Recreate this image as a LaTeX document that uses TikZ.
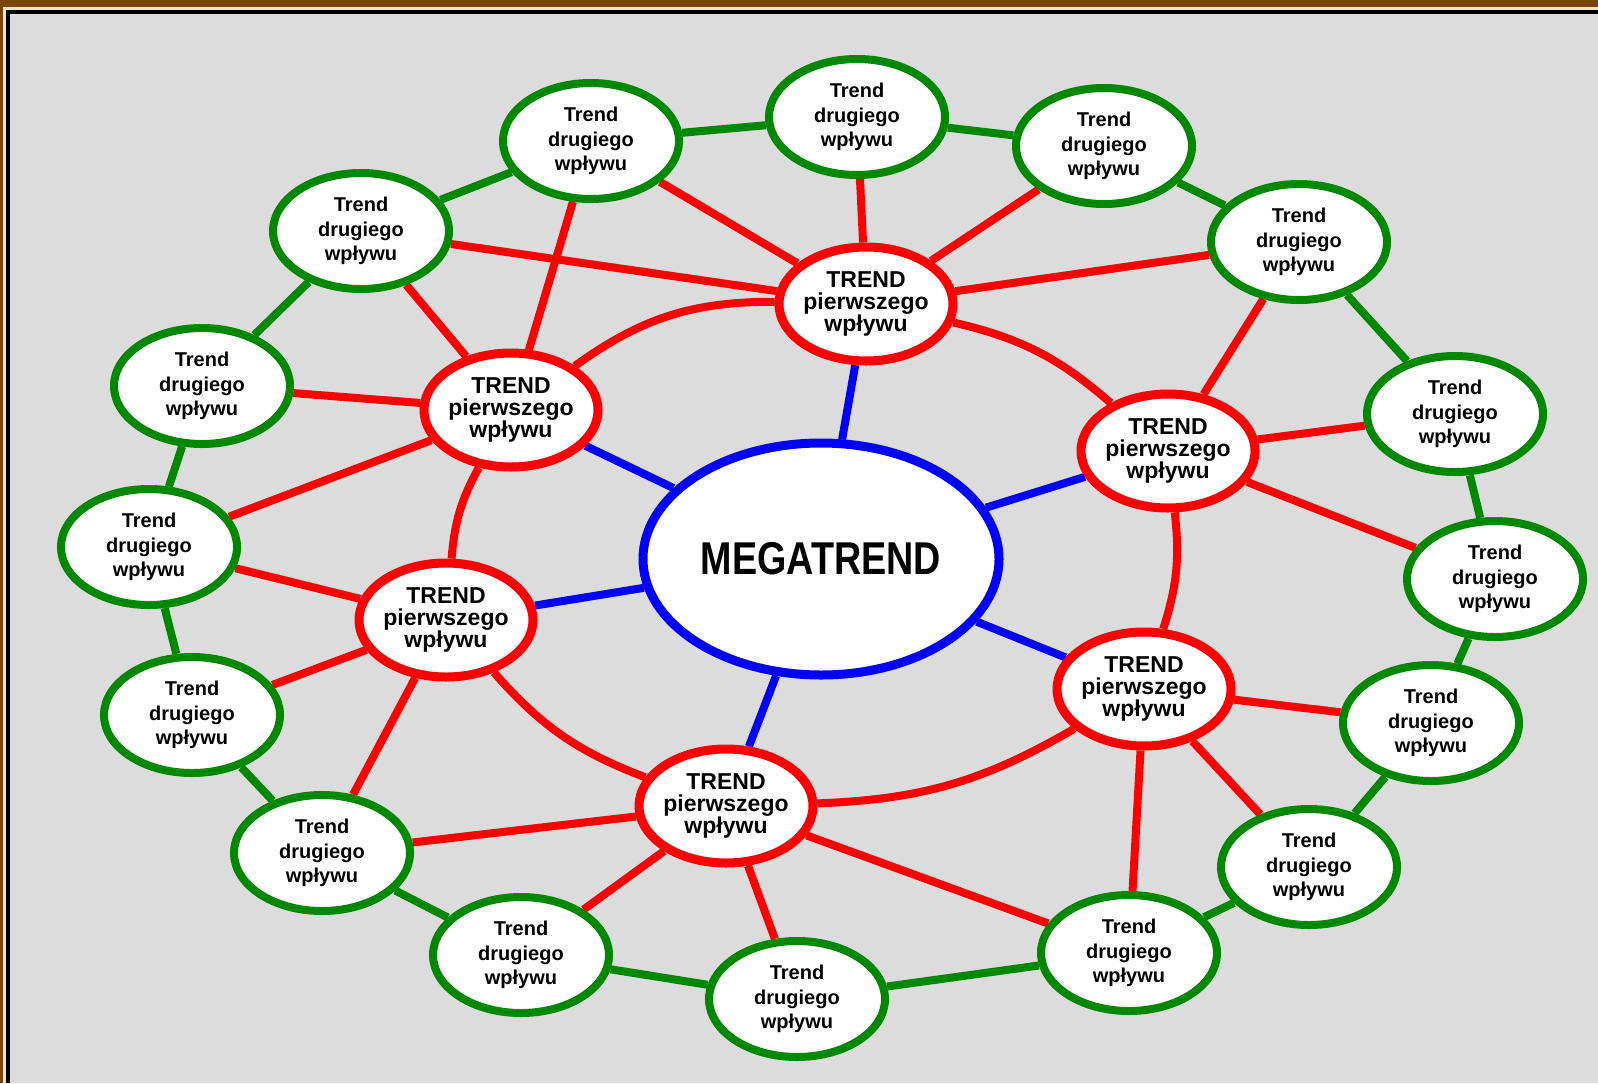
\documentclass[tikz,border=0pt]{standalone}
\usepackage{fontspec}
\setmainfont{Liberation Sans}
\usetikzlibrary{shapes.geometric}
\definecolor{frameBrown}{RGB}{120,70,0}
\definecolor{frameCream}{RGB}{232,226,216}
\definecolor{paper}{RGB}{220,220,220}
\definecolor{grn}{RGB}{0,136,0}
\definecolor{rd}{RGB}{255,0,0}
\definecolor{bl}{RGB}{0,0,255}
\pgfdeclarelayer{frame}
\pgfdeclarelayer{links}
\pgfsetlayers{frame,links,main}
\begin{document}
\begin{tikzpicture}[x=1bp,y=-1bp,
  trendtwo/.style={ellipse, draw=grn, line width=8bp, fill=white,
    minimum width=176bp, minimum height=116bp, inner sep=0pt, align=center,
    font=\fontsize{20bp}{24.5bp}\selectfont\bfseries},
  trendone/.style={ellipse, draw=rd, line width=9bp, fill=white,
    minimum width=174bp, minimum height=114bp, inner xsep=-15bp, inner ysep=-4bp,
    align=center, font=\fontsize{23bp}{22bp}\selectfont\bfseries},
  mega/.style={ellipse, draw=bl, line width=9bp, fill=white,
    minimum width=356bp, minimum height=232bp, inner sep=0pt,
    font=\fontsize{46bp}{50bp}\selectfont\bfseries},
  greenlink/.style={draw=grn, line width=8bp},
  redlink/.style={draw=rd, line width=8bp},
  bluelink/.style={draw=bl, line width=8bp},
]
\useasboundingbox (0,0) rectangle (1598,1083);

% framed grey sheet
\begin{pgfonlayer}{frame}
  \fill[frameBrown] (0,0) rectangle (1598,1083);
  \fill[frameCream] (2.7,6.7) rectangle (1598,1083);
  \fill[black] (6,10) rectangle (1598,1083);
  \fill[paper] (9.5,13.5) rectangle (1598,1083);
\end{pgfonlayer}

% central megatrend
\node[mega] (M) at (821,559) {\scalebox{0.82}[1]{MEGATREND}};

% first-order trends
\newcommand{\firsttxt}{TREND\\pierwszego\\wpływu}
\node[trendone] (A) at (511,410) {\firsttxt};
\node[trendone] (B) at (866,304) {\firsttxt};
\node[trendone] (C) at (1168,451) {\firsttxt};
\node[trendone] (D) at (1144,689) {\firsttxt};
\node[trendone] (E) at (726,806) {\firsttxt};
\node[trendone] (F) at (446,620) {\firsttxt};

% second-order trends
\newcommand{\secondtxt}{Trend\\drugiego\\wpływu}
\node[trendtwo] (g1)  at (591,141)  {\secondtxt};
\node[trendtwo] (g2)  at (857,117)  {\secondtxt};
\node[trendtwo] (g3)  at (1104,146) {\secondtxt};
\node[trendtwo] (g4)  at (1299,242) {\secondtxt};
\node[trendtwo] (g5)  at (1455,414) {\secondtxt};
\node[trendtwo] (g6)  at (1495,579) {\secondtxt};
\node[trendtwo] (g7)  at (1431,723) {\secondtxt};
\node[trendtwo] (g8)  at (1309,867) {\secondtxt};
\node[trendtwo] (g9)  at (1129,953) {\secondtxt};
\node[trendtwo] (g10) at (797,999)  {\secondtxt};
\node[trendtwo] (g11) at (521,955)  {\secondtxt};
\node[trendtwo] (g12) at (322,853)  {\secondtxt};
\node[trendtwo] (g13) at (192,715)  {\secondtxt};
\node[trendtwo] (g14) at (149,547)  {\secondtxt};
\node[trendtwo] (g15) at (202,386)  {\secondtxt};
\node[trendtwo] (g16) at (361,231)  {\secondtxt};

\begin{pgfonlayer}{links}
  % spokes of the megatrend
  \foreach \t in {A,B,C,D,E,F}
    \draw[bluelink] (M) -- (\t);

  % ring of first-order trends
  \draw[redlink] (A) to[bend left=18] (B);
  \draw[redlink] (B) to[bend left=14] (C);
  \draw[redlink] (C) to[bend left=12] (D);
  \draw[redlink] (D) to[bend left=14] (E);
  \draw[redlink] (E) to[bend left=14] (F);
  \draw[redlink] (F) to[bend left=12] (A);

  % first-order to second-order
  \foreach \a/\b in {A/g1, A/g16, A/g15, A/g14,
                     B/g2, B/g1, B/g3, B/g4, B/g16,
                     C/g4, C/g5, C/g6,
                     D/g7, D/g8, D/g9,
                     E/g9, E/g10, E/g11, E/g12,
                     F/g14, F/g13, F/g12}
    \draw[redlink] (\a) -- (\b);

  % outer ring of second-order trends
  \foreach \a/\b in {g1/g2, g2/g3, g3/g4, g4/g5, g5/g6, g6/g7, g7/g8, g8/g9,
                     g9/g10, g10/g11, g11/g12, g12/g13, g13/g14, g14/g15,
                     g15/g16, g16/g1}
    \draw[greenlink] (\a) -- (\b);
\end{pgfonlayer}
\end{tikzpicture}
\end{document}
